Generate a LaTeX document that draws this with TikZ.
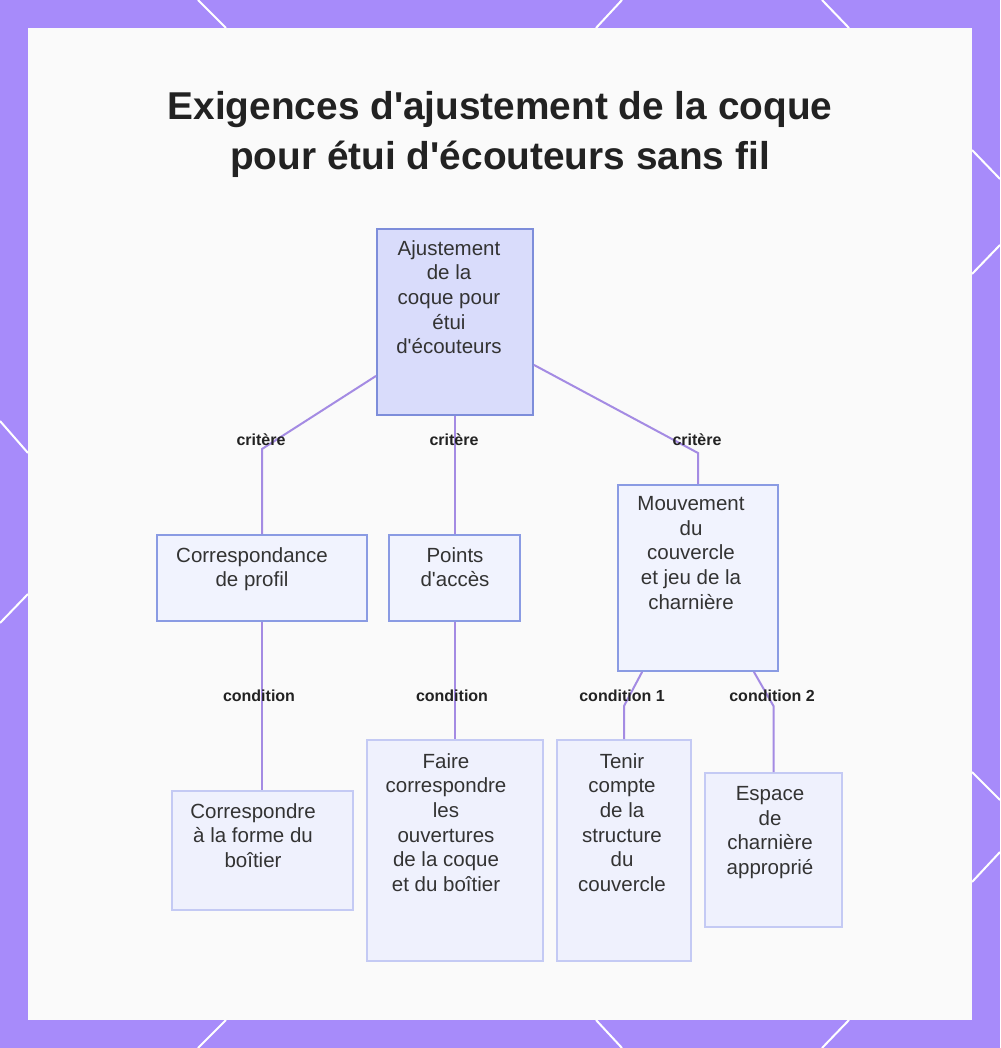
\documentclass[tikz,border=0pt]{standalone}
\usepackage{fontspec}
\setmainfont{Liberation Sans}
\newfontfamily\plainsans{Liberation Sans}
\definecolor{frame}{HTML}{A78BFA}
\definecolor{panel}{HTML}{FAFAFA}
\definecolor{rootfill}{HTML}{D9DCFB}
\definecolor{rootdraw}{HTML}{7D8DDA}
\definecolor{midfill}{HTML}{F1F3FE}
\definecolor{middraw}{HTML}{8A9BE3}
\definecolor{leaffill}{HTML}{EFF1FD}
\definecolor{leafdraw}{HTML}{C4CAF4}
\definecolor{edgecol}{HTML}{A48BE3}
\definecolor{ink}{HTML}{333333}
\definecolor{labink}{HTML}{222222}
\begin{document}
\begin{tikzpicture}[x=1pt,y=-1pt,
  hexline/.style={draw=white,line width=2pt},
  rootbox/.style={draw=rootdraw,fill=rootfill,line width=1.8pt,inner sep=0pt},
  midbox/.style={draw=middraw,fill=midfill,line width=1.8pt,inner sep=0pt},
  leafbox/.style={draw=leafdraw,fill=leaffill,line width=1.8pt,inner sep=0pt},
  boxtext/.style={anchor=north,inner sep=0pt,align=center,text=ink,font=\plainsans\fontsize{20.5}{24.6}\selectfont},
  edgeline/.style={draw=edgecol,line width=2pt},
  lab/.style={inner sep=0pt,text=labink,font=\plainsans\fontsize{16}{19}\selectfont\bfseries},
  titlestyle/.style={anchor=north,inner sep=0pt,align=center,text=labink,font=\plainsans\fontsize{38.8}{50}\selectfont\bfseries}
]
\useasboundingbox (0,0) rectangle (1000,1048);
% frame and panel
\fill[frame] (0,0) rectangle (1000,1048);
\foreach \a/\b in {{(198,0)}/{(226,28)},{(622,0)}/{(596,28)},{(822,0)}/{(849,28)},
  {(226,1020)}/{(198,1048)},{(596,1020)}/{(622,1048)},{(849,1020)}/{(822,1048)},
  {(0,421)}/{(28,453)},{(28,594)}/{(0,623)},
  {(972,150)}/{(1000,179)},{(972,274)}/{(1000,245)},{(972,772)}/{(1000,800)},{(972,882)}/{(1000,852)}}
  {\draw[hexline] \a -- \b;}
\fill[panel] (28,28) rectangle (972,1020);
% title
\node[titlestyle] (title) at (500,91.5) {Exigences d'ajustement de la coque\\pour étui d'écouteurs sans fil};
% boxes
\node[rootbox,minimum width=156pt,minimum height=186pt] (root) at (455,322) {};
\node[midbox,minimum width=210pt,minimum height=86pt] (prof) at (262,578) {};
\node[midbox,minimum width=131pt,minimum height=86pt] (acc) at (454.5,578) {};
\node[midbox,minimum width=160pt,minimum height=186pt] (mouv) at (698,578) {};
\node[leafbox,minimum width=181pt,minimum height=119pt] (forme) at (262.5,850.5) {};
\node[leafbox,minimum width=176pt,minimum height=221pt] (ouv) at (455,850.5) {};
\node[leafbox,minimum width=134pt,minimum height=221pt] (couv) at (624,850.5) {};
\node[leafbox,minimum width=137pt,minimum height=154pt] (esp) at (773.5,850) {};
% texts
\node[boxtext] (roott) at (449,240.3) {Ajustement\\de la\\coque pour\\étui\\d'écouteurs};
\node[boxtext] (proft) at (252,547.3) {Correspondance\\de profil};
\node[boxtext] (acct) at (455,547.3) {Points\\d'accès};
\node[boxtext] (mouvt) at (691,496.3) {Mouvement\\du\\couvercle\\et jeu de la\\charnière};
\node[boxtext] (formet) at (253,803.3) {Correspondre\\à la forme du\\boîtier};
\node[boxtext] (ouvt) at (446,753.3) {Faire\\correspondre\\les\\ouvertures\\de la coque\\et du boîtier};
\node[boxtext] (couvt) at (622,753.3) {Tenir\\compte\\de la\\structure\\du\\couvercle};
\node[boxtext] (espt) at (770,786.3) {Espace\\de\\charnière\\approprié};
% connector points
\path (root.south west) ++(0,-40) coordinate (rL);
\path (root.south east) ++(0,-51) coordinate (rR);
\coordinate (b1) at (262,449);
\coordinate (b3) at (698,453);
\path (mouv.south west) ++(25,0) coordinate (mL);
\path (mouv.south east) ++(-25,0) coordinate (mR);
\coordinate (b6) at (624,706);
\coordinate (b7) at (773.5,706);
% connectors
\draw[edgeline] (rL) -- (b1) -- (prof.north);
\draw[edgeline] (root.south) -- (root.south |- acc.north);
\draw[edgeline] (rR) -- (b3) -- (mouv.north);
\draw[edgeline] (prof.south) -- (prof.south |- forme.north);
\draw[edgeline] (acc.south) -- (acc.south |- ouv.north);
\draw[edgeline] (mL) -- (b6) -- (couv.north);
\draw[edgeline] (mR) -- (b7) -- (esp.north);
% labels
\node[lab] (l1) at (261,440) {critère};
\node[lab] (l2) at (454,440) {critère};
\node[lab] (l3) at (697,440) {critère};
\node[lab] (l4) at (259,696) {condition};
\node[lab] (l5) at (452,696) {condition};
\node[lab] (l6) at (622,696) {condition 1};
\node[lab] (l7) at (772,696) {condition 2};
\end{tikzpicture}
\end{document}
